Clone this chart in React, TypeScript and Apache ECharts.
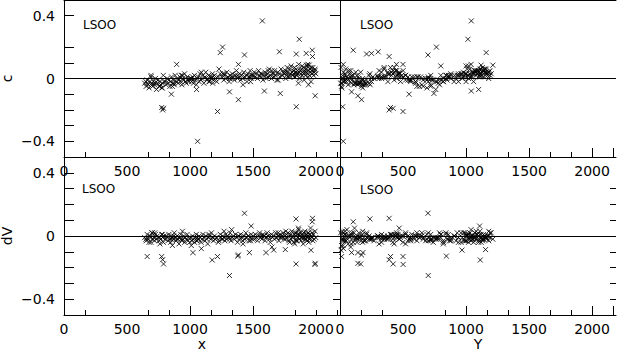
import React, { useEffect, useRef } from "react";
import * as echarts from "echarts";

// ---- star cloud: position x, position Y, residual c, residual dV (one entry per star) ----
const cloudX = [
  640, 652, 660, 668, 675, 683, 690, 697, 704, 712, 718, 725, 733, 740, 747, 755, 761, 768, 775, 782, 788, 794, 650, 700, 760,
  803, 810, 818, 825, 832, 840, 846, 853, 860, 868, 875, 882, 890, 897, 905, 912, 920, 927, 935, 942, 950, 957, 963, 970, 977, 984, 991, 998, 870, 930,
  1005, 1012, 1020, 1027, 1035, 1042, 1050, 1057, 1065, 1072, 1080, 1088, 1095, 1103, 1110, 1118, 1125, 1133, 1140, 1148, 1155, 1163, 1170, 1178, 1186, 1194, 1202, 1212, 1225, 1240,
  1252, 1260, 1268, 1276, 1284, 1292, 1300, 1310, 1318, 1326, 1335, 1343, 1352, 1360, 1368, 1377, 1385, 1393, 1402, 1410, 1418, 1427, 1435, 1443, 1452, 1460, 1468, 1477, 1485, 1494,
  1502, 1510, 1518, 1527, 1535, 1544, 1552, 1561, 1570, 1578, 1587, 1595, 1604, 1612, 1620, 1629, 1637, 1646, 1654, 1663, 1671, 1680, 1688, 1697, 1705, 1714, 1722, 1731, 1739, 1747,
  1752, 1758, 1765, 1771, 1778, 1784, 1790, 1796, 1802, 1808, 1813, 1818, 1823, 1828, 1833, 1838, 1843, 1848, 1852, 1857,
  1862, 1866, 1871, 1875, 1880, 1884, 1889, 1893, 1898, 1902, 1906, 1911, 1915, 1920, 1924, 1929, 1933, 1938, 1942, 1947,
  1951, 1956, 1960, 1965, 1970, 1975, 1980, 1986, 1992, 1998,
  720, 860, 940, 1090, 1150, 1230, 1330, 1420, 1560, 1650, 1700, 1790, 1860, 1910, 1960, 780, 1010, 1270, 1480, 1620, 1830, 1940, 690, 1180, 1760,
];
const cloudY = [
  130, 610, 40, 720, 180, 905, 330, 150, 660, 480, 200, 1020, 760, 90, 560, 170, 820, 240, 690, 120, 1120, 380, 250, 790, 630,
  560, 140, 970, 200, 430, 720, 1060, 300, 160, 850, 650, 450, 30, 1180, 780, 520, 360, 1000, 190, 880, 60, 420, 700, 230, 1140, 540, 940, 330, 600, 1080,
  250, 820, 480, 140, 1020, 660, 180, 920, 370, 600, 1110, 740, 60, 410, 210, 980, 1150, 690, 310, 460, 160, 1050, 840, 390, 560, 1170, 20, 770, 500, 1090,
  330, 1000, 130, 880, 450, 1130, 620, 190, 990, 270, 1160, 540, 730, 40, 1070, 820, 350, 470, 210, 940, 680, 1100, 590, 1190, 760, 420, 1040, 310, 90, 860,
  1010, 380, 570, 1120, 700, 440, 930, 260, 1060, 800, 490, 1180, 150, 1030, 640, 350, 960, 720, 1090, 300, 1140, 520, 780, 410, 1000, 860, 1160, 230, 1070, 470,
  1050, 420, 1110, 350, 980, 870, 1150, 460, 1020, 1180, 300, 1070, 940, 400, 610, 1130, 1010, 720, 1090, 380,
  1040, 1160, 650, 450, 990, 1120, 840, 1060, 430, 1200, 560, 1080, 910, 1140, 330, 1000, 1170, 700, 1100, 800,
  1030, 470, 600, 1190, 960, 1130, 520, 1050, 1110, 880,
  5, 12, 20, 28, 35, 45, 55, 65, 75, 85, 95, 105, 115, 125, 8, 15, 25, 40, 50, 70, 90, 110, 135, 160, 180,
];
const cloudC = [
  -0.03, -0.05, -0.01, -0.04, -0.06, -0.02, 0.01, -0.03, -0.05, -0.02, -0.04, 0.0, -0.07, -0.03, -0.01, -0.05, -0.02, -0.04, -0.06, -0.03, 0.02, -0.02, -0.02, -0.04, -0.05,
  -0.02, -0.04, 0.0, -0.03, -0.01, -0.05, -0.02, 0.01, -0.03, -0.01, -0.04, 0.02, -0.02, 0.0, -0.03, -0.01, 0.01, -0.02, -0.04, 0.0, -0.01, 0.03, -0.02, -0.03, 0.01, -0.01, -0.02, 0.0, -0.03, 0.02,
  0.0, -0.02, 0.01, -0.03, 0.02, -0.01, -0.04, 0.0, 0.01, -0.02, 0.03, -0.01, 0.0, 0.02, -0.03, 0.01, 0.04, -0.01, 0.0, 0.02, -0.02, 0.01, 0.0, 0.03, -0.01, 0.02, 0.0, -0.02, 0.01, 0.03,
  0.01, 0.03, -0.01, 0.02, 0.0, 0.04, 0.01, -0.02, 0.02, 0.0, 0.03, 0.01, -0.01, 0.02, 0.05, 0.0, 0.01, 0.03, -0.01, 0.02, 0.0, 0.04, 0.01, 0.02, -0.02, 0.03, 0.01, 0.05, 0.0, 0.02,
  0.02, 0.04, 0.01, 0.03, 0.0, 0.05, 0.02, 0.01, 0.03, -0.01, 0.02, 0.04, 0.0, 0.03, 0.01, 0.06, 0.02, 0.0, 0.03, 0.01, 0.05, 0.02, -0.01, 0.04, 0.03, 0.01, 0.06, 0.02, 0.04, 0.03,
  0.03, 0.05, 0.02, 0.07, 0.04, 0.01, 0.06, 0.03, 0.08, 0.04, 0.02, 0.05, 0.03, 0.07, 0.01, 0.04, 0.06, 0.02, 0.05, 0.03,
  0.09, 0.04, 0.0, 0.05, 0.03, 0.06, 0.02, 0.04, 0.07, 0.03, -0.01, 0.05, 0.02, 0.06, 0.04, 0.08, 0.03, 0.01, 0.05, 0.02,
  0.06, 0.04, -0.02, 0.05, 0.03, 0.07, 0.02, 0.04, 0.06, 0.03,
  -0.03, -0.05, 0.02, 0.04, -0.02, 0.06, 0.01, -0.04, 0.03, 0.05, -0.01, 0.02, -0.03, 0.04, 0.07, -0.06, 0.0, 0.03, -0.02, 0.05, 0.01, -0.04, 0.02, -0.03, 0.0,
];
const cloudDV = [
  -0.01, -0.03, 0.01, -0.02, -0.04, 0.0, -0.01, 0.02, -0.02, -0.01, -0.03, 0.01, -0.02, 0.0, -0.01, -0.03, -0.05, -0.02, 0.01, -0.01, -0.04, 0.0, -0.02, 0.02, -0.01,
  -0.02, 0.0, -0.01, -0.03, 0.01, -0.02, -0.04, 0.0, -0.01, -0.02, 0.02, -0.01, -0.03, 0.0, -0.02, -0.05, -0.01, 0.01, -0.03, -0.02, 0.0, -0.04, -0.01, -0.02, 0.01, -0.03, -0.01, -0.04, 0.0, -0.02,
  -0.01, -0.03, 0.0, -0.02, -0.04, -0.01, 0.01, -0.03, -0.02, 0.0, -0.01, -0.04, -0.02, 0.01, -0.01, -0.03, 0.0, -0.02, -0.05, -0.01, 0.0, -0.02, 0.02, -0.01, -0.03, 0.0, -0.02, -0.01, -0.04, 0.01,
  -0.02, 0.0, -0.01, -0.03, 0.01, -0.02, 0.0, -0.01, 0.02, -0.03, -0.01, 0.0, -0.02, 0.01, -0.01, -0.04, 0.0, -0.02, 0.01, -0.01, -0.03, 0.0, -0.02, 0.02, -0.01, 0.0, -0.03, -0.01, 0.01, -0.02,
  0.0, -0.02, 0.01, -0.01, -0.03, 0.0, 0.02, -0.01, -0.02, 0.01, 0.0, -0.03, -0.01, 0.02, 0.0, -0.02, -0.04, 0.01, -0.01, 0.0, -0.02, 0.02, -0.01, 0.0, -0.03, 0.01, -0.01, 0.0, 0.02, -0.02,
  0.0, -0.02, 0.01, -0.01, 0.02, -0.03, 0.0, 0.01, -0.02, 0.03, -0.01, 0.0, -0.04, 0.01, 0.02, -0.02, 0.0, -0.03, 0.01, -0.01,
  0.04, -0.02, 0.0, 0.02, -0.03, -0.01, 0.01, 0.0, -0.05, 0.02, -0.01, 0.03, 0.0, -0.02, 0.01, -0.03, 0.0, 0.02, -0.04, 0.01,
  -0.02, 0.05, 0.0, -0.01, 0.02, -0.03, 0.01, -0.02, 0.03, -0.01,
  0.02, -0.06, 0.03, -0.08, 0.01, -0.03, 0.04, -0.05, 0.0, -0.07, 0.02, -0.04, 0.05, -0.02, -0.09, 0.01, -0.06, 0.03, -0.03, 0.0, -0.05, 0.02, -0.04, -0.01, 0.03,
];

// ---- outlying stars ----
const outX = [1574, 1867, 1258, 1240, 1432, 1709, 1843, 1922, 1970, 1972, 894, 1384, 1890, 1925, 1945, 1935, 1060, 783, 775, 790, 1218, 1843, 1384, 1993, 852, 1716, 1313, 1590, 1052, 1313, 1841, 1485, 1023, 1176, 1379, 1841, 1991, 1603, 1664, 1756, 1471, 660];
const outY = [1042, 1015, 765, 1160, 698, 303, 211, 250, 105, 390, 26, 448, 800, 1120, 1213, 500, 26, 390, 401, 422, 500, 21, 171, 142, 548, 745, 92, 1042, 1100, 700, 237, 1108, 182, 1113, 844, 164, 501, 92, 968, 1155, 142, 13];
const outC = [0.367, 0.25, 0.2, 0.165, 0.15, 0.17, 0.156, 0.16, 0.18, 0.14, 0.09, 0.09, 0.08, 0.085, 0.085, 0.09, -0.4, -0.2, -0.185, -0.19, -0.21, -0.18, -0.135, -0.11, -0.1, -0.095, -0.085, -0.08, -0.07, 0.0, 0.03, 0.02, -0.01, 0.01, 0.02, 0.04, 0.05, 0.02, 0.03, 0.04, 0.01, -0.03];
const outDV = [0.0, 0.01, -0.02, -0.01, 0.144, 0.0, 0.02, -0.02, 0.09, 0.112, -0.02, 0.0, -0.01, 0.01, -0.02, 0.0, -0.01, -0.15, -0.13, -0.177, -0.13, -0.03, -0.12, -0.173, -0.02, -0.01, -0.02, 0.0, -0.03, -0.25, 0.108, 0.063, -0.105, -0.152, -0.127, -0.177, -0.18, -0.105, -0.089, -0.086, -0.105, -0.13];

// ---- axis ticks / labels ----
const xLabelValues = [0, 500, 1000, 1500, 2000];
const leftMinorTicks = [166.7, 666.7, 833.3, 1166.7, 1333.3, 1833.3, 2000, 2166.7];
const leftMajorTicks = [1000, 1500];
const rightMinorTicks = [166.7, 333.3, 833.3, 1166.7, 1333.3, 1666.7, 1833.3];
const rightMajorTicks = [1000, 1500, 2000, 2166.7];
const yLabelValues = [-0.4, 0, 0.4];
const cTicks = [-0.4, -0.3, -0.2, -0.1, 0.1, 0.2, 0.4];
const dvTicks = [-0.4, -0.3, -0.2, -0.1, 0.1, 0.2, 0.3, 0.4];
const dvRightTicks = [-0.4, -0.3, -0.2, -0.1, 0.1, 0.2, 0.3];
const panelLabels = ["LSOO", "LSOO", "LSOO", "LSOO"];
const xNames = ["x", "Y"];
const yNames = ["c", "dV"];

const FONT = "DejaVu Sans";
const XMAX = 2190;

export default function App() {
  const ref = useRef<HTMLDivElement>(null);
  useEffect(() => {
    const chart = echarts.init(ref.current!, null, { renderer: "svg" });
    const allX = [...cloudX, ...outX];
    const allY = [...cloudY, ...outY];
    const allC = [...cloudC, ...outC];
    const allDV = [...cloudDV, ...outDV];
    const pts = (a: number[], b: number[]) => a.map((v, i) => [v, b[i]]);
    const fmtY = (v: number) => (v < 0 ? "\u2212" + Math.abs(v) : String(v));
    const fmtX = (v: number) => String(v);
    const txt = { color: "#000", fontSize: 14, fontFamily: FONT };
    const line = { color: "#000", width: 1 };

    const grids = [
      { left: 64, top: 0, width: 276, height: 157, outerBoundsMode: "none" },
      { left: 340, top: 0, width: 276, height: 157, outerBoundsMode: "none" },
      { left: 64, top: 157, width: 276, height: 158, outerBoundsMode: "none" },
      { left: 340, top: 157, width: 276, height: 158, outerBoundsMode: "none" },
    ];

    const mainX = (g: number, minor: number[], name: string) => ({
      type: "value", gridIndex: g, min: 0, max: XMAX, position: "bottom",
      axisLine: { show: true, onZero: false, lineStyle: line },
      axisTick: { show: true, inside: true, length: 5, customValues: minor, lineStyle: line },
      axisLabel: { show: true, customValues: xLabelValues, formatter: fmtX, margin: 7, ...txt },
      splitLine: { show: false },
      name, nameLocation: "middle", nameGap: 22, nameTextStyle: txt,
    });
    const longX = (g: number, major: number[]) => ({
      type: "value", gridIndex: g, min: 0, max: XMAX, position: "bottom",
      axisLine: { show: false, onZero: false },
      axisTick: { show: true, inside: true, length: 9, customValues: major, lineStyle: line },
      axisLabel: { show: false }, splitLine: { show: false },
    });
    const topX = (g: number) => ({
      type: "value", gridIndex: g, min: 0, max: XMAX, position: "top",
      axisLine: { show: true, onZero: false, lineStyle: line },
      axisTick: { show: false }, axisLabel: { show: false }, splitLine: { show: false },
    });
    const leftY = (g: number, ticks: number[], name: string) => ({
      type: "value", gridIndex: g, min: -0.5, max: 0.5, position: "left",
      axisLine: { show: true, onZero: false, lineStyle: line },
      axisTick: { show: true, inside: true, length: 10, customValues: ticks, lineStyle: line },
      axisLabel: { show: true, customValues: yLabelValues, formatter: fmtY, margin: 9, ...txt },
      splitLine: { show: false },
      name, nameLocation: "middle", nameGap: 50, nameTextStyle: txt,
    });
    const rightPanelY = (g: number, ticks: number[], len: number) => ({
      type: "value", gridIndex: g, min: -0.5, max: 0.5, position: "left",
      axisLine: { show: true, onZero: false, lineStyle: line },
      axisTick: { show: true, inside: false, length: len, customValues: ticks, lineStyle: line },
      axisLabel: { show: false }, splitLine: { show: false },
    });

    const zeroLine = {
      silent: true, symbol: ["none", "none"], label: { show: false },
      lineStyle: { color: "#000", width: 1, type: "solid" },
      emphasis: { disabled: true },
      data: [{ yAxis: 0 }],
    };
    const scatter = (xi: number, yi: number, data: number[][]) => ({
      type: "scatter", xAxisIndex: xi, yAxisIndex: yi, data,
      symbol: "path://M0,0L10,10M10,0L0,10", symbolSize: 5,
      itemStyle: { color: "transparent", borderColor: "#000", borderWidth: 1 },
      silent: true, markLine: zeroLine,
    });

    const labelPos = [[83, 24.5], [360, 24.5], [82, 189], [360, 190]];

    chart.setOption({
      animation: false,
      backgroundColor: "#fff",
      grid: grids,
      xAxis: [
        mainX(0, leftMinorTicks, ""), mainX(1, rightMinorTicks, ""),
        mainX(2, leftMinorTicks, xNames[0]), mainX(3, rightMinorTicks, xNames[1]),
        longX(0, leftMajorTicks), longX(1, rightMajorTicks),
        longX(2, leftMajorTicks), longX(3, rightMajorTicks),
        topX(0), topX(1),
      ],
      yAxis: [
        leftY(0, cTicks, yNames[0]),
        rightPanelY(1, cTicks, 10),
        leftY(2, dvTicks, yNames[1]),
        rightPanelY(3, dvRightTicks, 7),
        {
          type: "value", gridIndex: 3, min: -0.5, max: 0.5, position: "right",
          axisLine: { show: false, onZero: false },
          axisTick: { show: true, inside: true, length: 6, customValues: dvRightTicks, lineStyle: line },
          axisLabel: { show: false }, splitLine: { show: false },
        },
      ],
      series: [
        scatter(0, 0, pts(allX, allC)),
        scatter(1, 1, pts(allY, allC)),
        scatter(2, 2, pts(allX, allDV)),
        scatter(3, 3, pts(allY, allDV)),
      ],
      graphic: panelLabels.map((t, i) => ({
        type: "text", x: labelPos[i][0], y: labelPos[i][1], silent: true,
        style: { text: t, fontSize: 12, fontFamily: FONT, fill: "#000", verticalAlign: "middle" },
      })),
    } as any);
    return () => chart.dispose();
  }, []);
  return <div ref={ref} style={{ position: "fixed", left: 0, top: 0, width: 617, height: 353 }} />;
}
